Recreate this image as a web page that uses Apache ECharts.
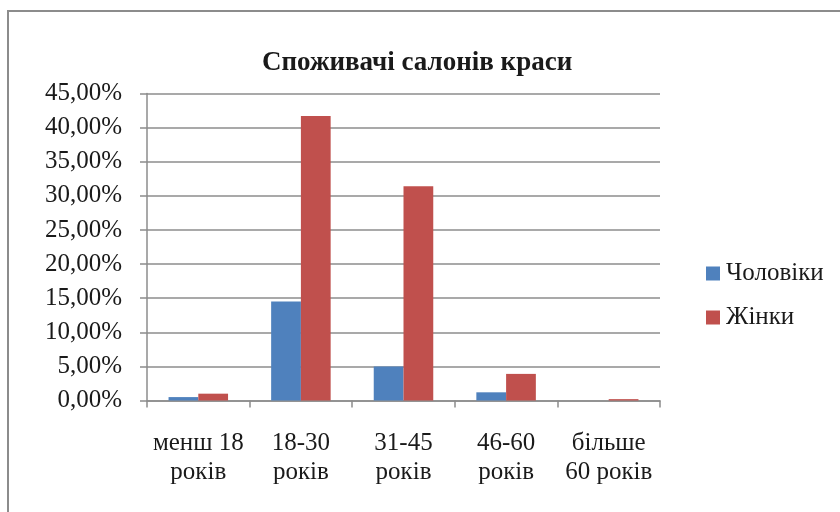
<!DOCTYPE html>
<html>
<head>
<meta charset="utf-8">
<script src="https://cdn.jsdelivr.net/npm/echarts@6/dist/echarts.min.js"></script>
<style>html,body{margin:0;padding:0;background:#fff;}#c{width:840px;height:512px;}</style>
</head>
<body>
<div id="c"></div>
<script>
const categories = ['менш 18\nроків', '18-30\nроків', '31-45\nроків', '46-60\nроків', 'більше\n60 років'];
const men = [0.5, 14.5, 5.0, 1.2, 0.0];
const women = [1.0, 41.7, 31.4, 3.9, 0.2];
const seriesNames = ['Чоловіки', 'Жінки'];
const yTicks = { min: 0, max: 45, interval: 5 };

const chart = echarts.init(document.getElementById('c'), null, { renderer: 'canvas' });
const font = '"Liberation Serif", "Times New Roman", serif';
chart.setOption({
  animation: false,
  backgroundColor: '#fff',
  textStyle: { fontFamily: font },
  title: {
    text: 'Споживачі салонів краси',
    left: 257, top: 45,
    textStyle: { fontFamily: font, fontSize: 27, fontWeight: 'bold', color: '#1a1a1a' }
  },
  graphic: [{
    type: 'rect', shape: { x: 8, y: 11, width: 900, height: 600 },
    style: { fill: 'none', stroke: '#8c8c8c', lineWidth: 2 }, silent: true
  }],
  legend: {
    orient: 'vertical', left: 701, top: 256,
    itemWidth: 14, itemHeight: 14, itemGap: 19, icon: 'rect',
    textStyle: { fontFamily: font, fontSize: 25, color: '#1a1a1a', padding: [0, 0, 0, 1] },
    data: seriesNames
  },
  grid: { left: 147, right: 180, top: 93.5, bottom: 111.5, containLabel: false },
  xAxis: {
    type: 'category', data: categories,
    axisLine: { lineStyle: { color: '#8c8c8c', width: 1.5 } },
    axisTick: { show: true, length: 7, lineStyle: { color: '#8c8c8c', width: 1.5 } },
    axisLabel: { fontFamily: font, fontSize: 25, color: '#1a1a1a', lineHeight: 29, margin: 28, interval: 0 }
  },
  yAxis: {
    type: 'value', min: yTicks.min, max: yTicks.max, interval: yTicks.interval,
    axisLine: { show: true, lineStyle: { color: '#8c8c8c', width: 1.5 } },
    axisTick: { show: true, length: 7, lineStyle: { color: '#8c8c8c', width: 1.5 } },
    splitLine: { lineStyle: { color: '#8c8c8c', width: 1.5 } },
    axisLabel: { fontFamily: font, fontSize: 25, color: '#1a1a1a', margin: 25,
      formatter: v => v.toFixed(2).replace('.', ',') + '%' }
  },
  series: [
    { name: seriesNames[0], type: 'bar', data: men, barGap: '0%', barCategoryGap: '42%',
      itemStyle: { color: '#4F81BD' } },
    { name: seriesNames[1], type: 'bar', data: women, barGap: '0%', barCategoryGap: '42%',
      itemStyle: { color: '#C0504D' } }
  ]
});
</script>
</body>
</html>
